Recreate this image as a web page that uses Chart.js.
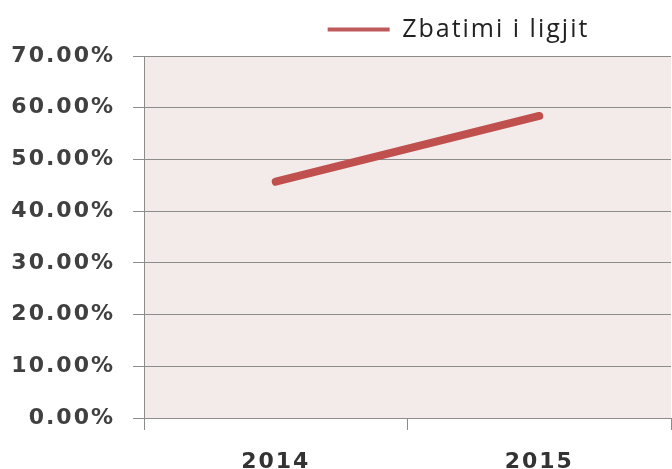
<!DOCTYPE html>
<html>
<head>
<meta charset="utf-8">
<script src="https://cdn.jsdelivr.net/npm/chart.js@4.4.1/dist/chart.umd.min.js"></script>
<style>
    html, body { margin: 0; padding: 0; background: #ffffff; }
    #wrap { width: 672px; height: 469px; }
</style>
</head>
<body>
<div id="wrap"><canvas id="zbatimiChart"></canvas></div>
<script>
// Daten
const years = ['2014', '2015'];
const zbatimiValues = [45.7, 58.4];
const seriesName = 'Zbatimi i ligjit';
const yTicks = [0, 10, 20, 30, 40, 50, 60, 70];

const lineColor = '#c0504d';
const tickFont = { family: 'DejaVu Sans', size: 22, weight: 'bold' };

// Hintergrund der Zeichenfläche + breitere Schrift wie im Original
const plotBackground = {
    id: 'plotBackground',
    beforeDraw(chart) {
        const { ctx, chartArea } = chart;
        ctx.save();
        ctx.fillStyle = '#f3eaea';
        ctx.fillRect(chartArea.left, chartArea.top, chartArea.right - chartArea.left, chartArea.bottom - chartArea.top);
        ctx.restore();
        ctx.letterSpacing = '2px';
    }
};

// Legende etwas nach rechts schieben, Höhe festlegen
const legendPlace = {
    id: 'legendPlace',
    afterInit(chart) {
        const legend = chart.legend;
        const origFit = legend.fit;
        legend.fit = function () {
            origFit.call(this);
            this.height = 56;
        };
    },
    beforeDraw(chart) {
        chart.legend.left = 214;
        chart.legend.top = 9;
    }
};

new Chart(document.getElementById('zbatimiChart'), {
    type: 'line',
    data: {
        labels: years,
        datasets: [{
            label: seriesName,
            data: zbatimiValues,
            borderColor: lineColor,
            backgroundColor: lineColor,
            borderWidth: 8,
            borderCapStyle: 'round',
            pointRadius: 0,
            tension: 0
        }]
    },
    options: {
        responsive: true,
        maintainAspectRatio: false,
        animation: false,
        layout: { padding: { left: 0, right: 1, top: 0, bottom: 0 } },
        plugins: {
            legend: {
                display: true,
                position: 'top',
                labels: {
                    color: '#222222',
                    font: { family: 'Open Sans', size: 25 },
                    boxWidth: 62,
                    boxHeight: 4,
                    padding: 8,
                    generateLabels: () => [{
                        text: seriesName,
                        fillStyle: '#bf5a5c',
                        strokeStyle: '#bf5a5c',
                        lineWidth: 0,
                        fontColor: '#222222'
                    }]
                }
            },
            tooltip: { enabled: false }
        },
        scales: {
            x: {
                offset: true,
                grid: {
                    offset: true,
                    drawOnChartArea: false,
                    tickLength: 12,
                    color: '#8c8c8c'
                },
                border: { color: '#8c8c8c', width: 1 },
                ticks: {
                    color: '#333333',
                    font: tickFont,
                    padding: 19
                },
                afterFit(scale) { scale.height = 51; }
            },
            y: {
                min: 0,
                max: 70,
                afterBuildTicks(scale) {
                    scale.ticks = yTicks.map(v => ({ value: v }));
                },
                grid: {
                    color: '#8c8c8c',
                    tickLength: 11
                },
                border: { color: '#8c8c8c', width: 1 },
                ticks: {
                    color: '#404040',
                    font: tickFont,
                    padding: 18,
                    callback: v => v.toFixed(2) + '%'
                },
                afterFit(scale) { scale.width = 144; }
            }
        }
    },
    plugins: [plotBackground, legendPlace]
});
</script>
</body>
</html>
